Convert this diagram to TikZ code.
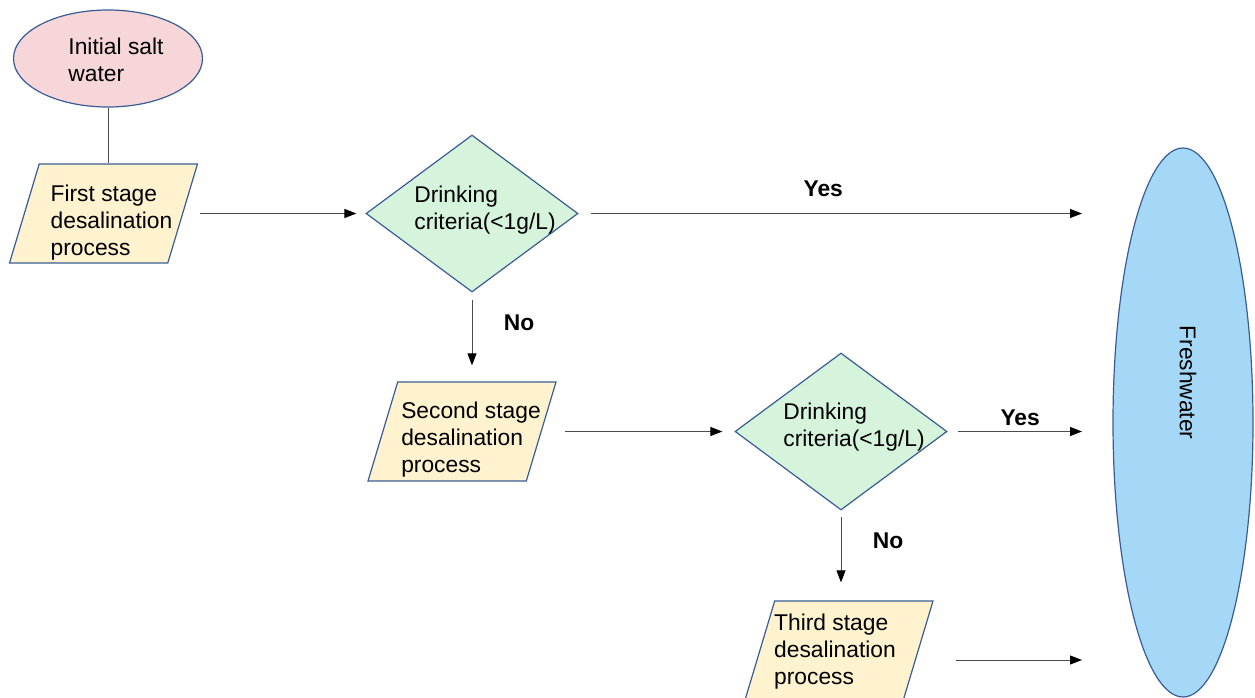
\documentclass[tikz,border=0pt]{standalone}
\usepackage{fontspec}
\setmainfont{Liberation Sans}
\usetikzlibrary{positioning,arrows.meta,shapes.geometric}
\definecolor{flowblue}{HTML}{3A5C94}
\definecolor{saltpink}{HTML}{F6D6D9}
\definecolor{stageyellow}{HTML}{FFF2CF}
\definecolor{critgreen}{HTML}{D6F4DB}
\definecolor{freshblue}{HTML}{A4D8F6}

\begin{document}
\begin{tikzpicture}[
    x=1pt, y=-1pt, on grid,
    font=\fontsize{22.8}{27}\selectfont,
    edgeline/.style={draw=flowblue, line width=1.2pt},
    textbox/.style={align=left, inner sep=0pt},
    saltnode/.style={ellipse, edgeline, fill=saltpink, minimum width=189pt, minimum height=97pt, inner sep=0pt},
    stagenode/.style={trapezium, trapezium left angle=77, trapezium right angle=103, trapezium stretches=true, edgeline, fill=stageyellow, minimum width=188pt, minimum height=99pt, inner sep=3pt},
    critnode/.style={diamond, aspect=1.35, edgeline, fill=critgreen, minimum width=212pt, minimum height=157pt, inner sep=0pt},
    freshnode/.style={ellipse, edgeline, fill=freshblue, minimum width=140pt, minimum height=549pt, inner sep=0pt},
    flow/.style={draw=black!70, line width=1pt, -{Triangle[length=12pt, width=9pt, color=black]}},
    answer/.style={font=\bfseries\fontsize{22.8}{27}\selectfont}
]
\useasboundingbox (0,0) rectangle (1255,698);

% Stages and checks
\node[saltnode, label={[textbox, xshift=8pt, yshift=-1pt]center:{Initial salt\\water}}] (init) at (108,58.5) {};
\node[stagenode, below left=155pt and 4.5pt of init, label={[textbox, xshift=8pt, yshift=-9pt]center:{First stage\\desalination\\process}}] (s1) {};
\node[critnode, right=368.5pt of s1, label={[textbox, xshift=13pt, yshift=3pt]center:{Drinking\\criteria(<1g/L)}}] (d1) {};
\node[stagenode, below left=218pt and 10pt of d1, label={[textbox, xshift=9pt, yshift=-8pt]center:{Second stage\\desalination\\process}}] (s2) {};
\node[critnode, right=379pt of s2, label={[textbox, xshift=13pt, yshift=4pt]center:{Drinking\\criteria(<1g/L)}}] (d2) {};
\node[stagenode, below left=219pt and 2pt of d2, label={[textbox, xshift=-4pt, yshift=-1pt]center:{Third stage\\desalination\\process}}] (s3) {};

% Output
\node[freshnode] (fresh) at (1183,422.5) {};
\node[rotate=-90] (freshtxt) at ([xshift=5pt, yshift=40pt]fresh.center) {Freshwater};
\coordinate (in1) at (1082,213.5);
\coordinate (in2) at (1082,431.5);
\coordinate (in3) at (1082,660);

% Connectors
\draw[draw=black!70, line width=0.8pt] (init.south) -- (init.south |- s1.north);
\draw[flow, shorten <=17pt, shorten >=9pt] (s1) -- (d1);
\draw[flow, shorten <=12pt] (d1) -- (in1) node[answer, pos=0.486, above=13pt] {Yes};
\draw[flow, shorten <=7pt, shorten >=16pt] (d1.south) -- (d1.south |- s2.north) node[answer, pos=0.34, right=28pt] {No};
\draw[flow, shorten <=23pt, shorten >=12pt] (s2) -- (d2);
\draw[flow, shorten <=10pt] (d2) -- (in2) node[answer, pos=0.54, above=2pt] {Yes};
\draw[flow, shorten <=6pt, shorten >=18pt] (d2.south) -- (d2.south |- s3.north) node[answer, pos=0.34, right=28pt] {No};
\draw[flow, shorten <=37pt] (s3.east |- in3) -- (in3);
\end{tikzpicture}
\end{document}
